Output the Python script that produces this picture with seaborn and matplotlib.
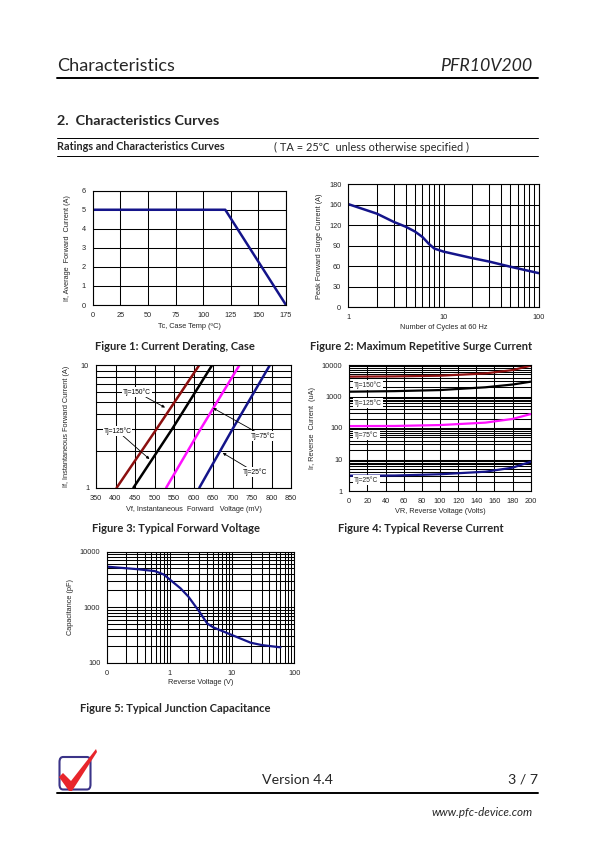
import matplotlib
matplotlib.use("Agg")
import matplotlib.pyplot as plt
from matplotlib.patches import FancyBboxPatch, Polygon
from matplotlib.lines import Line2D
import seaborn as sns
import numpy as np

# ---------------- data ----------------
# Figure 1: current derating
derate_temp = [0, 120, 175]
derate_current = [5, 5, 0]
derate_xticks = [0, 25, 50, 75, 100, 125, 150, 175]
derate_yticks = [0, 1, 2, 3, 4, 5, 6]

# Figure 2: surge current
surge_cycles = [1, 2, 3, 4, 5, 6, 7, 8, 10, 20, 30, 50, 100]
surge_current = [151, 137, 125, 118, 111, 103, 93, 86, 81.5, 72, 67, 59.5, 50]
surge_yticks = [0, 30, 60, 90, 120, 150, 180]
surge_yticklabels = ["0", "30", "60", "90", "120", "160", "180"]
surge_xticks = [1, 10, 100]

# Figure 3: forward voltage (mV) vs current (A)
fwd_current = [1, 3, 10]
fwd_vf_150 = [403, 505, 615]
fwd_vf_125 = [446, 545, 648]
fwd_vf_75 = [530, 618, 718]
fwd_vf_25 = [615, 700, 796]
fwd_xticks = [350, 400, 450, 500, 550, 600, 650, 700, 750, 800, 850]

# Figure 4: reverse current (uA) vs reverse voltage (V)
rev_voltage = [0, 50, 100, 150, 180, 200]
rev_ir_150 = [4270, 4350, 4570, 5400, 6900, 9500]
rev_ir_125 = [1420, 1480, 1600, 1960, 2400, 2950]
rev_ir_75 = [115, 116, 124, 148, 194, 277]
rev_ir_25 = [3.07, 3.1, 3.4, 4.1, 5.5, 8.5]
rev_xticks = [0, 20, 40, 60, 80, 100, 120, 140, 160, 180, 200]
rev_yticks = [1, 10, 100, 1000, 10000]

# Figure 5: junction capacitance
cap_voltage = [0.1, 0.3, 0.58, 0.8, 1, 1.5, 2, 3, 4, 5, 10, 20, 30, 60]
cap_pf = [5370, 4850, 4470, 3900, 3170, 2180, 1550, 830, 510, 434, 315, 229, 208, 189]
cap_xticks = [0.1, 1, 10, 100]
cap_xticklabels = ["0", "1", "10", "100"]
cap_yticks = [100, 1000, 10000]

# ---------------- style ----------------
sns.set_style("white")
plt.rcParams["font.family"] = ["Liberation Sans", "DejaVu Sans"]
PAGE_FONT = ["Lato", "DejaVu Sans"]
NAVY = "#14148a"
DRED = "#8c0f0f"
MAG = "#ff10ff"
W, H = 595, 842

fig = plt.figure(figsize=(5.95, 8.42), dpi=100)


def ax_at(l, t, r, b):
    return fig.add_axes([l / W, 1 - b / H, (r - l) / W, (b - t) / H])


def fx(x):
    return x / W


def fy(y):
    return 1 - y / H


GRID = dict(color="black", linewidth=0.75)
TICKFS = 5.3
LABFS = 5.3


def style_ax(ax):
    for s in ax.spines.values():
        s.set_color("black")
        s.set_linewidth(0.8)
    ax.tick_params(axis="both", which="both", labelsize=TICKFS, length=2,
                   width=0.6, color="black", pad=3, direction="out")
    ax.tick_params(which="minor", length=0)
    ax.set_facecolor("white")


# ---------------- Figure 1 ----------------
ax1 = ax_at(92.7, 190.7, 286, 305)
sns.lineplot(x=derate_temp, y=derate_current, ax=ax1, color=NAVY, linewidth=1.8)
ax1.set_xlim(0, 175)
ax1.set_ylim(0, 6)
ax1.set_xticks(derate_xticks)
ax1.set_yticks(derate_yticks)
ax1.grid(True, **GRID)
ax1.set_axisbelow(True)
style_ax(ax1)
ax1.set_xlabel("Tc, Case Temp (ºC)", fontsize=LABFS, labelpad=3)
ax1.set_ylabel("If, Average  Forward  Current (A)", fontsize=LABFS, labelpad=8)

# ---------------- Figure 2 ----------------
ax2 = ax_at(348.3, 184.3, 538.7, 307.3)
sns.lineplot(x=surge_cycles, y=surge_current, ax=ax2, color=NAVY, linewidth=1.8)
ax2.set_xscale("log")
ax2.set_xlim(1, 100)
ax2.set_ylim(0, 180)
ax2.set_xticks(surge_xticks)
ax2.set_xticklabels([str(v) for v in surge_xticks])
ax2.set_yticks(surge_yticks)
ax2.set_yticklabels(surge_yticklabels)
ax2.grid(True, which="major", **GRID)
ax2.grid(True, which="minor", axis="x", **GRID)
ax2.set_axisbelow(True)
style_ax(ax2)
ax2.set_xlabel("Number of Cycles at 60 Hz", fontsize=LABFS, labelpad=2)
ax2.set_ylabel("Peak Forward Surge Current (A)", fontsize=LABFS, labelpad=4)

# ---------------- Figure 3 ----------------
ax3 = ax_at(96, 365, 291, 487.7)
for vf, c in [(fwd_vf_150, DRED), (fwd_vf_125, "black"), (fwd_vf_75, MAG), (fwd_vf_25, NAVY)]:
    sns.lineplot(x=vf, y=fwd_current, ax=ax3, color=c, linewidth=1.8, sort=False)
ax3.set_yscale("log")
ax3.set_xlim(350, 850)
ax3.set_ylim(1, 10)
ax3.set_xticks(fwd_xticks)
ax3.set_yticks([1, 10])
ax3.set_yticklabels(["1", "10"])
ax3.yaxis.set_minor_formatter(matplotlib.ticker.NullFormatter())
ax3.grid(True, which="major", **GRID)
ax3.grid(True, which="minor", axis="y", **GRID)
ax3.set_axisbelow(True)
style_ax(ax3)
ax3.set_xlabel("Vf, Instantaneous  Forward   Voltage (mV)", fontsize=LABFS, labelpad=3)
ax3.set_ylabel("If, Instantaneous Forward Current (A)", fontsize=LABFS, labelpad=8)

ann = dict(fontsize=4.8, color="black",
           bbox=dict(boxstyle="square,pad=0.15", fc="white", ec="none"),
           arrowprops=dict(arrowstyle="-|>", color="black", lw=0.6,
                           mutation_scale=4, shrinkA=0, shrinkB=0))
ax3.annotate("Tj=150°C", xy=(527, 4.5), xytext=(455, 6.0), ha="center", va="center", **ann)
ax3.annotate("Tj=125°C", xy=(487, 1.71), xytext=(405, 2.9), ha="center", va="center", **ann)
ax3.annotate("Tj=75°C", xy=(650, 4.46), xytext=(779, 2.64), ha="center", va="center", **ann)
ax3.annotate("Tj=25°C", xy=(675, 1.92), xytext=(757, 1.34), ha="center", va="center", **ann)

# ---------------- Figure 4 ----------------
ax4 = ax_at(349.3, 365, 530.7, 491)
for ir, c in [(rev_ir_150, DRED), (rev_ir_125, "black"), (rev_ir_75, MAG), (rev_ir_25, NAVY)]:
    sns.lineplot(x=rev_voltage, y=ir, ax=ax4, color=c, linewidth=1.6)
ax4.set_yscale("log")
ax4.set_xlim(0, 200)
ax4.set_ylim(1, 10000)
ax4.set_xticks(rev_xticks)
ax4.set_yticks(rev_yticks)
ax4.set_yticklabels([str(v) for v in rev_yticks])
ax4.yaxis.set_minor_formatter(matplotlib.ticker.NullFormatter())
ax4.yaxis.set_minor_locator(matplotlib.ticker.LogLocator(base=10, subs=np.arange(2, 10)))
ax4.grid(True, which="major", **GRID)
ax4.grid(True, which="minor", axis="y", **GRID)
ax4.set_axisbelow(True)
style_ax(ax4)
ax4.set_xlabel("VR, Reverse Voltage (Volts)", fontsize=LABFS, labelpad=2)
ax4.set_ylabel("Ir, Reverse  Current  (uA)", fontsize=LABFS, labelpad=4)
lab = dict(fontsize=4.8, va="center", ha="left",
           bbox=dict(boxstyle="square,pad=0.2", fc="white", ec="none"))
for txt, yy in [("Tj=150°C", 384.7), ("Tj=125°C", 402.7), ("Tj=75°C", 435), ("Tj=25°C", 480)]:
    fig.text(fx(354), fy(yy), txt, **lab)

# ---------------- Figure 5 ----------------
ax5 = ax_at(107.3, 551.7, 294.3, 662.7)
sns.lineplot(x=cap_voltage, y=cap_pf, ax=ax5, color=NAVY, linewidth=1.6)
ax5.set_xscale("log")
ax5.set_yscale("log")
ax5.set_xlim(0.1, 100)
ax5.set_ylim(100, 10000)
ax5.set_xticks(cap_xticks)
ax5.set_xticklabels(cap_xticklabels)
ax5.set_yticks(cap_yticks)
ax5.set_yticklabels([str(v) for v in cap_yticks])
for a in (ax5.xaxis, ax5.yaxis):
    a.set_minor_locator(matplotlib.ticker.LogLocator(base=10, subs=np.arange(2, 10)))
    a.set_minor_formatter(matplotlib.ticker.NullFormatter())
ax5.grid(True, which="both", **GRID)
ax5.set_axisbelow(True)
style_ax(ax5)
ax5.set_xlabel("Reverse Voltage (V)", fontsize=LABFS, labelpad=2)
ax5.set_ylabel("Capacitance (pF)", fontsize=LABFS, labelpad=4)

# ---------------- page text ----------------
fig.text(fx(57), fy(66), "Characteristics", fontsize=13.1, family=PAGE_FONT, va="center", ha="left")
fig.text(fx(532), fy(66), "PFR10V200", fontsize=12.8, family=PAGE_FONT, style="italic",
         va="center", ha="right")
fig.add_artist(Line2D([fx(57), fx(538)], [fy(78), fy(78)], color="black", lw=1.4))
fig.text(fx(57), fy(121), "2.  Characteristics Curves", fontsize=10.4, family=PAGE_FONT,
         weight="bold", va="center", ha="left")
fig.add_artist(Line2D([fx(57), fx(538)], [fy(138), fy(138)], color="black", lw=0.7))
fig.add_artist(Line2D([fx(57), fx(538)], [fy(156), fy(156)], color="black", lw=0.7))
fig.text(fx(57), fy(147), "Ratings and Characteristics Curves", fontsize=7.8, family=PAGE_FONT,
         weight="bold", va="center", ha="left")
fig.text(fx(274), fy(147), "( TA = 25℃  unless otherwise specified )", fontsize=7.9,
         family=["Lato", "Noto Sans CJK SC", "DejaVu Sans"], va="center", ha="left")

cap = dict(fontsize=8.0, family=PAGE_FONT, weight="bold", va="center", ha="center")
fig.text(fx(174.5), fy(347), "Figure 1: Current Derating, Case", **cap)
fig.text(fx(421), fy(347), "Figure 2: Maximum Repetitive Surge Current", **cap)
fig.text(fx(176), fy(528), "Figure 3: Typical Forward Voltage", **cap)
fig.text(fx(421), fy(528), "Figure 4: Typical Reverse Current", **cap)
fig.text(fx(175), fy(708), "Figure 5: Typical Junction Capacitance", **cap)

# footer
logo = FancyBboxPatch((fx(59.5), fy(789.5)), fx(31), (fy(757) - fy(789.5)),
                      boxstyle="round,pad=0,rounding_size=0.006", transform=fig.transFigure,
                      fc="white", ec="#3b3488", lw=1.5)
fig.add_artist(logo)
check = Polygon([(fx(59), fy(777)), (fx(63), fy(773)), (fx(71), fy(781)), (fx(96), fy(749)),
                 (fx(97), fy(752)), (fx(72), fy(791)), (fx(69), fy(791))],
                closed=True, transform=fig.transFigure, fc="#e8252b", ec="none")
fig.add_artist(check)
fig.text(fx(297), fy(780), "Version 4.4", fontsize=10.2, family=PAGE_FONT, va="center", ha="center")
fig.text(fx(538), fy(780), "3 / 7", fontsize=10.2, family=PAGE_FONT, va="center", ha="right")
fig.add_artist(Line2D([fx(57), fx(538)], [fy(793), fy(793)], color="black", lw=1.4))
fig.text(fx(533), fy(812), "www.pfc-device.com", fontsize=8.4, family=PAGE_FONT, style="italic",
         va="center", ha="right")

fig.savefig("out.png", dpi=100, facecolor="white")
